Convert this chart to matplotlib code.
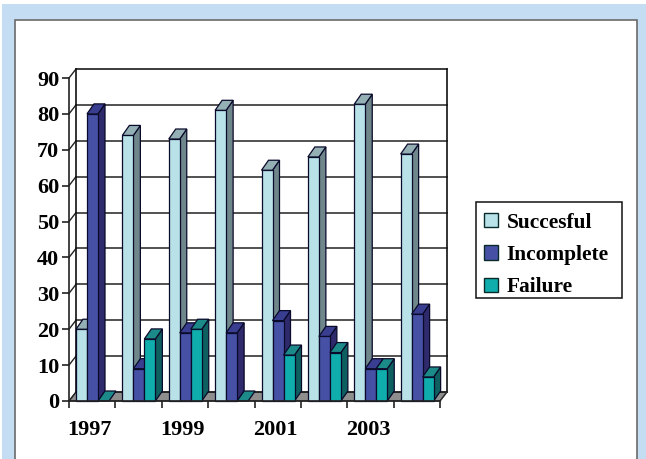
import matplotlib
matplotlib.use("Agg")
import matplotlib.pyplot as plt
from matplotlib.patches import Polygon, Rectangle, Patch

years = ["1997", "", "1999", "", "2001", "", "2003", ""]
succesful = [20, 74, 73, 81, 64.3, 68, 82.7, 68.8]
incomplete = [80, 9, 19, 19, 22.4, 18, 9, 24.2]
failure = [0, 17.3, 20, 0, 12.8, 13.5, 9, 6.7]
series_names = ["Succesful", "Incomplete", "Failure"]
y_ticks = list(range(0, 100, 10))

colors = [("#B8E2E8", "#6F868A", "#94B0B5"),
          ("#4650A5", "#2F2A6B", "#3A3E90"),
          ("#10ADAD", "#0E5F5F", "#1D8A8A")]

W, H = 646, 459
plt.rcParams["font.family"] = ["Liberation Serif", "DejaVu Serif"]
plt.rcParams["font.weight"] = "bold"
fig = plt.figure(figsize=(W / 100, H / 100), dpi=100, facecolor="white")


def frect(x0, y0, x1, y1, z, **kw):
    fig.add_artist(Rectangle((x0 / W, 1 - y1 / H), (x1 - x0) / W, (y1 - y0) / H,
                             transform=fig.transFigure, zorder=z, **kw))


frect(2, 4, W, H, -5, facecolor="#C5DDF2", edgecolor="none")
frect(15, 20, 637, H + 5, -4, facecolor="white", edgecolor="#6A6A6A", linewidth=1.2)
frect(476, 202, 622, 298, -3, facecolor="white", edgecolor="#111111", linewidth=1.1)

L, R, B, T = 69, 440, 401, 78
ax = fig.add_axes([L / W, 1 - B / H, (R - L) / W, (B - T) / H])
ax.patch.set_visible(False)
ax.set_xlim(0, 8)
ax.set_ylim(0, 90)
for s in ("top", "right"):
    ax.spines[s].set_visible(False)
for s in ("left", "bottom"):
    ax.spines[s].set_linewidth(1.2)
    ax.spines[s].set_color("#222222")

px_x = 8 / (R - L)
px_y = 90 / (B - T)
dx, dy = 7 * px_x, 9 * px_y
bdx, bdy = 7 * px_x, 10 * px_y
bar_w = 11 * px_x
gap = 7 * px_x


def line(xs, ys, **kw):
    ax.plot(xs, ys, clip_on=False, solid_capstyle="projecting", **kw)


# floor
ax.add_patch(Polygon([(0, 0), (8, 0), (8 + dx, dy), (dx, dy)], closed=True,
                     facecolor="#8E8E8E", edgecolor="#333333", linewidth=0.8,
                     clip_on=False, zorder=1))
# gridlines and walls
top = y_ticks[-1]
for v in y_ticks:
    line([dx, 8 + dx], [v + dy, v + dy], color="#1A1A1A" if v in (0, top) else "#333333",
         lw=1.2, zorder=1.5)
    line([0, dx], [v, v + dy], color="#222222", lw=1.0, zorder=1.5)
line([dx, dx], [dy, top + dy], color="#111111", lw=1.2, zorder=1.5)
line([8 + dx, 8 + dx], [dy, top + dy], color="#111111", lw=1.2, zorder=1.5)
line([8, 8 + dx], [0, dy], color="#333333", lw=1.0, zorder=1.5)


def bar3d(x, v, cols, z):
    front, side, topc = cols
    x1 = x + bar_w
    kw = dict(closed=True, edgecolor="#0A0A2A", linewidth=0.9, clip_on=False, zorder=z)
    if v > 0:
        ax.add_patch(Polygon([(x1, 0), (x1 + bdx, bdy), (x1 + bdx, v + bdy), (x1, v)],
                             facecolor=side, **kw))
        ax.add_patch(Polygon([(x, 0), (x1, 0), (x1, v), (x, v)], facecolor=front, **kw))
    ax.add_patch(Polygon([(x, v), (x1, v), (x1 + bdx, v + bdy), (x + bdx, v + bdy)],
                         facecolor=topc, **kw))


z = 2.0
for i in range(len(years)):
    for k, vals in enumerate((succesful, incomplete, failure)):
        bar3d(i + gap + k * bar_w, vals[i], colors[k], z)
        z += 0.01

ax.set_yticks(y_ticks)
ax.set_xticks(range(0, 9))
ax.set_xticklabels([])
ax.set_xticks([i + 0.45 for i in range(len(years)) if years[i]], minor=True)
ax.set_xticklabels([y for y in years if y], minor=True)
ax.tick_params(axis="y", length=5, width=1.2, pad=2, labelsize=16, color="#222222")
ax.tick_params(axis="x", which="major", length=5, width=1.2, color="#222222")
ax.tick_params(axis="x", which="minor", length=0, pad=13.5, labelsize=16)

handles = [Patch(facecolor=c[0], edgecolor="#0A2A2A", linewidth=1.0) for c in colors]
leg = ax.legend(handles, series_names, loc="upper left",
                bbox_to_anchor=(476 / W, 1 - 204.5 / H), bbox_transform=fig.transFigure,
                prop={"family": "Liberation Serif", "weight": "bold", "size": 15.4},
                handlelength=0.66, handleheight=0.66, handletextpad=0.38,
                labelspacing=0.58, borderpad=0.38, borderaxespad=0, frameon=False)
leg.set_zorder(10)

fig.savefig("out.png", dpi=100)
